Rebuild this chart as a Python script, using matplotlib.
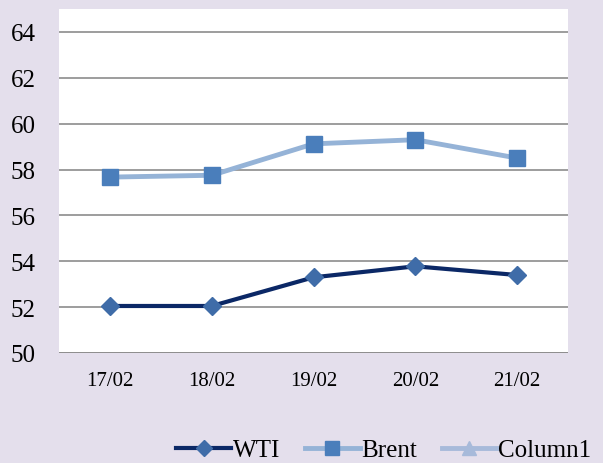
import matplotlib.pyplot as plt
import numpy as np

dates = ["17/02", "18/02", "19/02", "20/02", "21/02"]
wti = [52.05, 52.05, 53.3, 53.78, 53.4]
brent = [57.67, 57.75, 59.12, 59.3, 58.5]
column1 = []

plt.rcParams["font.family"] = "Liberation Serif"

bg = "#E4DFEC"
fig = plt.figure(figsize=(6.03, 4.64), dpi=100, facecolor=bg)
ax = fig.add_axes([59 / 603, 1 - 354 / 464, 509 / 603, 344 / 464])

x = np.arange(len(dates))
ax.plot(x, wti, color="#0B2866", lw=3, marker="D", ms=9, mfc="#3F6CA8", mec="#3F6CA8", label="WTI")
ax.plot(x, brent, color="#95B3D7", lw=3.5, marker="s", ms=11, mfc="#4A7EBB", mec="#4A7EBB", label="Brent")
ax.plot([], [], color="#A7BADA", lw=3.5, marker="^", ms=11, mfc="#A7BADA", mec="#A7BADA", label="Column1")

ax.set_xlim(-0.5, len(dates) - 0.5)
ax.set_ylim(50, 65)
ax.set_yticks(range(50, 65, 2))
ax.set_xticks(x)
ax.set_xticklabels(dates, fontsize=15)
ax.tick_params(axis="y", labelsize=18, length=0, pad=17)
ax.tick_params(axis="x", length=0, pad=13)
ax.grid(axis="y", color="#8C8C8C", lw=1.2)
ax.set_axisbelow(True)
for s in ax.spines.values():
    s.set_visible(False)
ax.axhline(50, color="#8C8C8C", lw=1.2)

fig.legend(loc="lower right", bbox_to_anchor=(1.018, -0.045), ncol=3, frameon=False,
           fontsize=18, handlelength=2.2, handletextpad=0.05, columnspacing=1.0,
           markerscale=0.9)

fig.savefig("out.png", dpi=100, facecolor=bg)
